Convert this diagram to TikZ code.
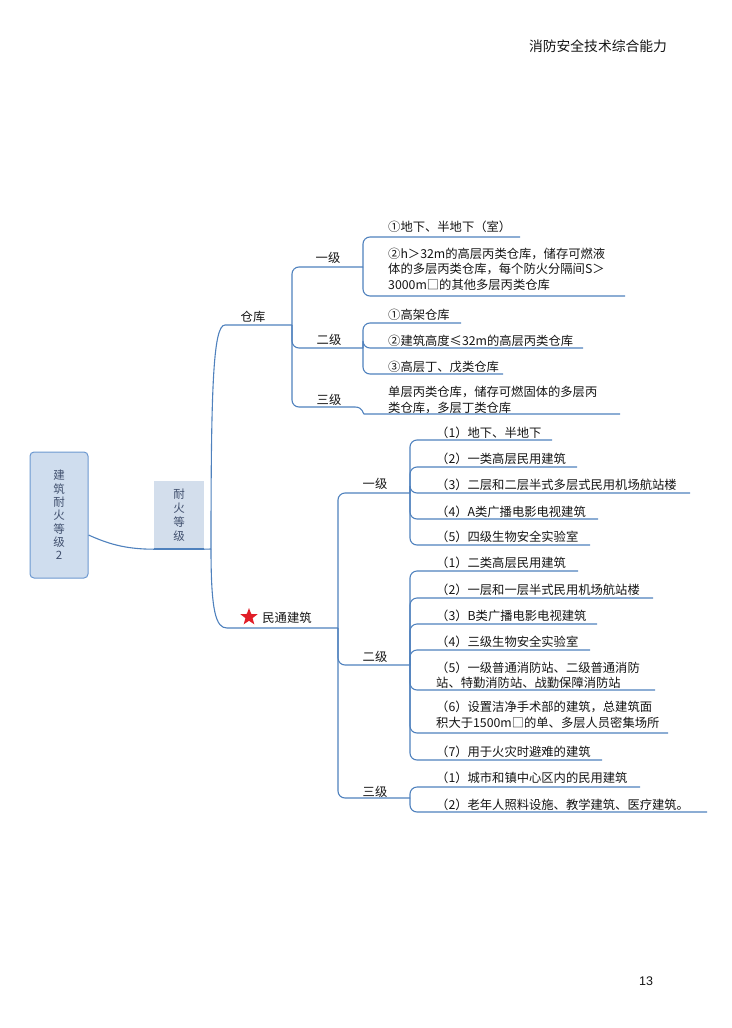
\documentclass[tikz,border=0pt]{standalone}
\usepackage{fontspec}
\setmainfont{Noto Sans CJK SC}
\newfontfamily\numfont{Liberation Sans}
\usetikzlibrary{shapes.geometric}

\definecolor{linkblue}{RGB}{79,129,189}
\definecolor{boxblue}{RGB}{207,221,238}
\definecolor{boxline}{RGB}{108,152,208}
\definecolor{firebox}{RGB}{211,222,236}
\definecolor{boxtext}{RGB}{65,80,110}
\definecolor{itemtext}{RGB}{20,20,20}
\definecolor{starred}{RGB}{225,30,40}

\tikzset{
  link/.style={draw=linkblue, line width=1.1pt, rounded corners=7pt},
  item/.style={anchor=west, inner sep=0pt, align=left, text=itemtext,
    font=\fontsize{12.3}{15.5}\selectfont},
  grade/.style={inner sep=0pt, text=itemtext, font=\fontsize{12.3}{15.5}\selectfont},
}

\begin{document}
\begin{tikzpicture}[x=1pt, y=-1pt]

	\useasboundingbox (0,0) rectangle (731,1028);

	% en-tete et numero de page
	\node[text=itemtext, font=\fontsize{13.8}{16}\selectfont] (title) at (598,46) {消防安全技术综合能力};
	\node[text=itemtext, font=\numfont\fontsize{12.5}{14}\selectfont] (page) at (646,981) {13};

	% racine
	\node[draw=boxline, fill=boxblue, line width=1pt, rounded corners=4pt,
	      minimum width=58pt, minimum height=126pt, align=center, text=boxtext,
	      font=\fontsize{11.5}{13.3}\selectfont] (root) at (59,515) {建\\筑\\耐\\火\\等\\级\\2};
	\node[fill=firebox, minimum width=50pt, minimum height=68pt, align=center, text=boxtext,
	      font=\fontsize{11.5}{14}\selectfont] (fire) at (179,515) {耐\\火\\等\\级};
	\coordinate (fj) at (211,549);

	\draw[link] ([yshift=-20pt]root.east) .. controls +(18,8) and +(-30,0) .. (fire.south west);
	\draw[linkblue, line width=2.2pt] (fire.south west) -- (fire.south east);
	\draw[link] (fire.south east) -- (fj);

	% ---- 仓库 ----
	\node[grade] (wh) at (253,317) {仓库};
	\coordinate (whs) at (232,325);
	\coordinate (whj) at (292,325);
	\draw[link] (fj) .. controls (211,390) and (213,325) .. (whs) -- (whj);

	% 一级
	\node[grade] (w1) at (328,258) {一级};
	\coordinate (w1j) at (363,267);
	\draw[link] (whj) |- (w1j);
	\node[item] (w1a) at (388,227) {①地下、半地下（室）};
	\coordinate (w1ae) at (520,237);
	\node[item] (w1b) at (388,269) {②h＞32m的高层丙类仓库，储存可燃液\\体的多层丙类仓库，每个防火分隔间S＞\\3000m□的其他多层丙类仓库};
	\coordinate (w1be) at (625,296);
	\draw[link] (w1j) |- (w1ae);
	\draw[link] (w1j) |- (w1be);

	% 二级
	\node[grade] (w2) at (329,340) {二级};
	\coordinate (w2j) at (363,348);
	\draw[link] (whj) |- (w2j);
	\foreach \i/\y/\u/\e/\t in {a/315/323/461/{①高架仓库},
	                            b/341/348/583/{②建筑高度≤32m的高层丙类仓库},
	                            c/367/374/503/{③高层丁、戊类仓库}} {
		\node[item] (w2\i) at (388,\y) {\t};
		\coordinate (w2\i e) at (\e,\u);
		\draw[link] (w2j) |- (w2\i e);
	}

	% 三级
	\node[grade] (w3) at (329,400) {三级};
	\coordinate (w3j) at (355,407);
	\coordinate (w3k) at (371,414);
	\draw[link] (whj) |- (w3j);
	\node[item] (w3a) at (388,400) {单层丙类仓库，储存可燃固体的多层丙\\类仓库，多层丁类仓库};
	\coordinate (w3ae) at (620,414);
	\draw[link] (w3j) .. controls +(8,0) and +(-8,0) .. (w3k) -- (w3ae);

	% ---- 民通建筑 ----
	\node[star, star points=5, star point ratio=2.4, fill=starred, inner sep=0pt,
	      minimum size=18pt] (star) at (249,617) {};
	\node[grade] (mt) at (287,618) {民通建筑};
	\coordinate (mts) at (234,628);
	\coordinate (mtj) at (338,628);
	\draw[link] (fj) .. controls (211,612) and (216,628) .. (mts) -- (mtj);

	% 一级
	\node[grade] (m1) at (375,484) {一级};
	\coordinate (m1j) at (410,493);
	\draw[link] (mtj) |- (m1j);
	\foreach \i/\y/\u/\e/\t in {1/433/440/552/{（1）地下、半地下},
	                            2/459/467/577/{（2）一类高层民用建筑},
	                            3/485/493/690/{（3）二层和二层半式多层式民用机场航站楼},
	                            4/512/519/598/{（4）A类广播电影电视建筑},
	                            5/537/545/590/{（5）四级生物安全实验室}} {
		\node[item] (m1\i) at (436,\y) {\t};
		\coordinate (m1\i e) at (\e,\u);
		\draw[link] (m1j) |- (m1\i e);
	}

	% 二级
	\node[grade] (m2) at (375,657) {二级};
	\coordinate (m2j) at (410,665);
	\draw[link] (mtj) |- (m2j);
	\foreach \i/\y/\u/\e/\t in {1/563/571/578/{（1）二类高层民用建筑},
	                            2/590/598/653/{（2）一层和一层半式民用机场航站楼},
	                            3/616/624/597/{（3）B类广播电影电视建筑},
	                            4/642/650/590/{（4）三级生物安全实验室},
	                            5/675/690/655/{（5）一级普通消防站、二级普通消防\\站、特勤消防站、战勤保障消防站},
	                            6/715/733/668/{（6）设置洁净手术部的建筑，总建筑面\\积大于1500m□的单、多层人员密集场所},
	                            7/752/760/602/{（7）用于火灾时避难的建筑}} {
		\node[item] (m2\i) at (436,\y) {\t};
		\coordinate (m2\i e) at (\e,\u);
		\draw[link] (m2j) |- (m2\i e);
	}

	% 三级
	\node[grade] (m3) at (375,792) {三级};
	\coordinate (m3j) at (410,798);
	\draw[link] (mtj) |- (m3j);
	\foreach \i/\y/\u/\e/\t in {1/778/787/640/{（1）城市和镇中心区内的民用建筑},
	                            2/805/812/707/{（2）老年人照料设施、教学建筑、医疗建筑。}} {
		\node[item] (m3\i) at (436,\y) {\t};
		\coordinate (m3\i e) at (\e,\u);
		\draw[link] (m3j) |- (m3\i e);
	}

\end{tikzpicture}
\end{document}
